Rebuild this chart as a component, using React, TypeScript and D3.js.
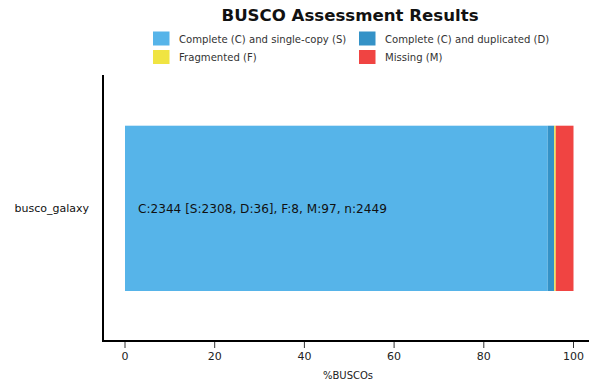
import React from "react";
import * as d3 from "d3";

const categories = ["busco_galaxy"];
const seriesNames = ["Complete (C) and single-copy (S)", "Complete (C) and duplicated (D)", "Fragmented (F)", "Missing (M)"];
const seriesColors = ["#56B4E9", "#3492C7", "#F0E442", "#F04442"];
const counts = [2308, 36, 8, 97];
const total = 2449;
const xTicks = [0, 20, 40, 60, 80, 100];
const barLabel = "C:2344 [S:2308, D:36], F:8, M:97, n:2449";
const title = "BUSCO Assessment Results";
const xLabel = "%BUSCOs";

export default function App() {
  const W = 589, H = 380;
  const font = "DejaVu Sans, sans-serif";
  const x = d3.scaleLinear().domain([0, 100]).range([125, 573.5]);
  const y = d3.scaleBand().domain(categories).range([125.7, 291]).padding(0);
  const pct = counts.map((c) => (c / total) * 100);
  const stack = d3.stack<number[]>().keys(seriesNames.map((_, i) => String(i))).value((d, k) => d[+k]);
  const stacked = stack([pct]);
  const legendPos = [
    [153, 31.5], [359, 31.5], [153, 50], [359, 50],
  ];
  const legendOrder = [0, 1, 2, 3];
  return (
    <svg width={W} height={H} style={{ position: "absolute", left: 0, top: 0, background: "#fff" }} fontFamily={font}>
      <text x={350} y={21} textAnchor="middle" fontSize={16.6} fontWeight="bold" fill="#111">{title}</text>
      {legendOrder.map((i, j) => (
        <g key={i}>
          <rect x={legendPos[j][0]} y={legendPos[j][1]} width={16.5} height={14} fill={seriesColors[i]} />
          <text x={legendPos[j][0] + 26} y={legendPos[j][1] + 11} fontSize={10.1} fill="#333">{seriesNames[i]}</text>
        </g>
      ))}
      {stacked.map((s, i) => (
        <rect key={i} x={x(s[0][0])} y={y(categories[0])!} width={x(s[0][1]) - x(s[0][0])} height={y.bandwidth()} fill={seriesColors[i]} />
      ))}
      <text x={138} y={y(categories[0])! + y.bandwidth() / 2} dy="0.35em" fontSize={12.1} fill="#111">{barLabel}</text>
      <text x={89} y={y(categories[0])! + y.bandwidth() / 2} dy="0.35em" textAnchor="end" fontSize={11} fill="#111">{categories[0]}</text>
      <line x1={103} x2={103} y1={75} y2={342} stroke="#000" strokeWidth={2} />
      <line x1={102} x2={589} y1={341} y2={341} stroke="#000" strokeWidth={2} />
      {xTicks.map((t) => (
        <g key={t}>
          <line x1={x(t)} x2={x(t)} y1={342} y2={348} stroke="#333" strokeWidth={1} />
          <text x={x(t)} y={360} textAnchor="middle" fontSize={11} fill="#222">{t}</text>
        </g>
      ))}
      <text x={348} y={379} textAnchor="middle" fontSize={10} fill="#222">{xLabel}</text>
    </svg>
  );
}
